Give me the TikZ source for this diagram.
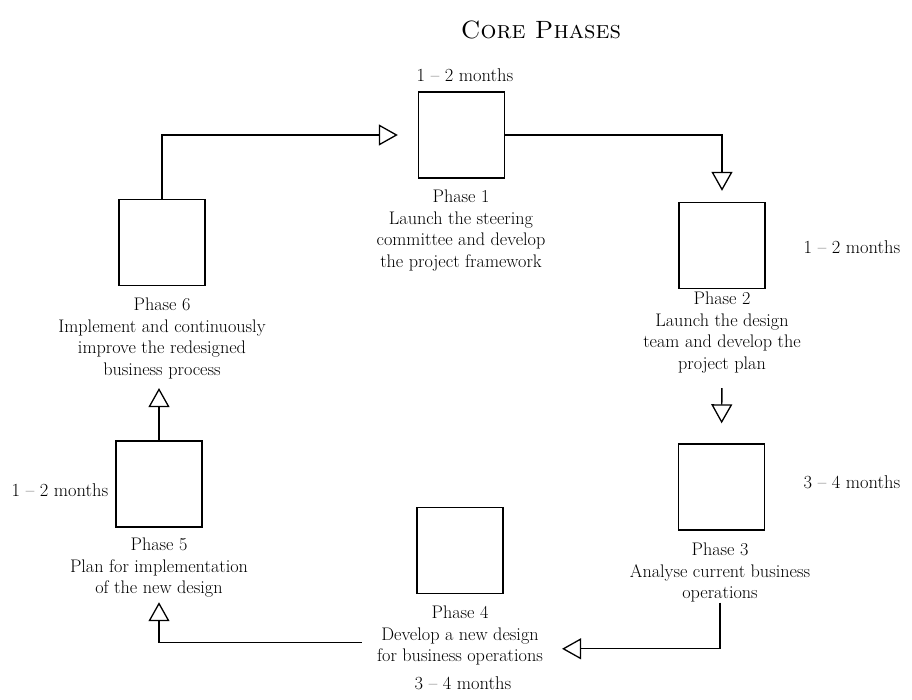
\documentclass[tikz,border=0pt]{standalone}
\usetikzlibrary{arrows.meta}
\begin{document}
\begin{tikzpicture}[x=1bp,y=-1bp,
  phasebox/.style={draw,line width=1.4bp,minimum width=86bp,minimum height=86bp,inner sep=0pt},
  phasetext/.style={anchor=north,align=center,inner sep=0pt,
    font=\fontsize{18.2bp}{21.5bp}\selectfont},
  duration/.style={inner sep=0pt,font=\fontsize{18.5bp}{22bp}\selectfont},
  flow/.style={line width=1.4bp,-{Triangle[open,length=19bp,width=21bp,line width=1.3bp]}}]
  \useasboundingbox (0,0) rectangle (912,700);

  % heading
  \node[inner sep=0pt,font=\fontsize{25bp}{28bp}\selectfont] (title) at (541,30) {\textsc{Core Phases}};

  % phase boxes
  \node[phasebox] (p1) at (461.5,135) {};
  \node[phasebox] (p2) at (722,245.5) {};
  \node[phasebox] (p3) at (721.5,487) {};
  \node[phasebox] (p4) at (460,550.5) {};
  \node[phasebox] (p5) at (159,484) {};
  \node[phasebox] (p6) at (162,242.5) {};

  % phase descriptions
  \node[phasetext] (t1) at (461,190) {Phase 1\\Launch the steering\\committee and develop\\the project framework};
  \node[phasetext] (t2) at (722,292) {Phase 2\\Launch the design\\team and develop the\\project plan};
  \node[phasetext] (t3) at (720,543) {Phase 3\\Analyse current business\\operations};
  \node[phasetext] (t4) at (460,606) {Phase 4\\Develop a new design\\for business operations};
  \node[phasetext] (t5) at (159,538) {Phase 5\\Plan for implementation\\of the new design};
  \node[phasetext] (t6) at (162,298) {Phase 6\\Implement and continuously\\improve the redesigned\\business process};

  % durations
  \node[duration] (m1) at (465,75) {1 -- 2 months};
  \node[duration] (m2) at (852,247) {1 -- 2 months};
  \node[duration] (m3) at (852,482) {3 -- 4 months};
  \node[duration] (m4) at (463,683) {3 -- 4 months};
  \node[duration] (m5) at (60,490) {1 -- 2 months};

  % flow between phases
  \draw[flow,shorten >=20bp] (p6.north) |- (p1.west);
  \draw[flow,shorten >=11bp] (p1.east) -| (p2.north);
  \draw[flow,shorten <=15bp,shorten >=20bp] (t2.south) -- (p3.north);
  \draw[flow,shorten >=19bp] (t3.south) |- ([yshift=-13bp]t4.east);
  \draw[flow,shorten <=15bp,shorten >=4.5bp] ([yshift=-7bp]t4.west) -| (t5.south);
  \draw[flow,shorten >=9bp] (p5.north) -- (p5.north |- t6.south);
\end{tikzpicture}
\end{document}
